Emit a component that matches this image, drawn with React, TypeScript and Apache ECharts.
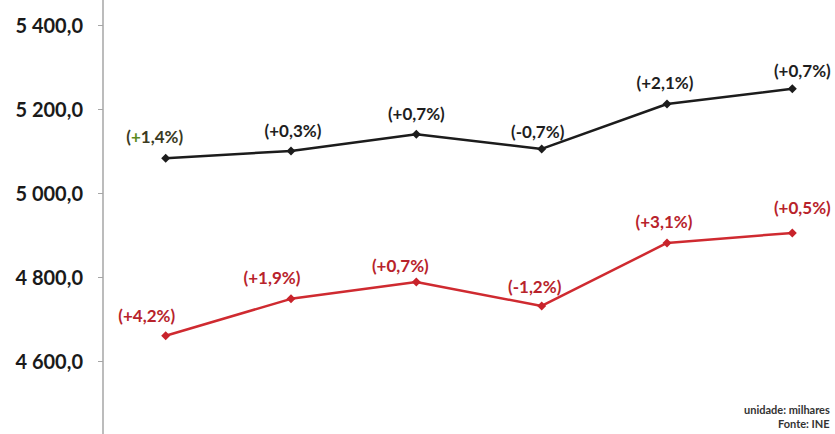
import React, { useEffect, useRef } from "react";
import * as echarts from "echarts";

const categories = ["1", "2", "3", "4", "5", "6"];
const seriesTop = [5083, 5100, 5140, 5105, 5212, 5248];
const seriesBottom = [4660, 4748, 4788, 4731, 4881, 4905];
const labelsTop = ["(+1,4%)", "(+0,3%)", "(+0,7%)", "(-0,7%)", "(+2,1%)", "(+0,7%)"];
const labelsBottom = ["(+4,2%)", "(+1,9%)", "(+0,7%)", "(-1,2%)", "(+3,1%)", "(+0,5%)"];
const yTicks = { min: 4400, max: 5600, interval: 200 };

// label placement styling (offset of label centre from its point)
const offTop = [[-11, -22], [2, -21], [0, -21], [-4, -17], [-2, -21], [10, -18]];
const offBottom = [[-19, -20], [-19, -21], [-16, -17], [-7, -19], [-3, -21], [10, -25]];

const FONT = "Lato, 'Open Sans', sans-serif";

function fmtAxis(v: number): string {
  const fixed = v.toFixed(1).replace(".", ",");
  const [int, dec] = fixed.split(",");
  const withSpace = int.replace(/\B(?=(\d{3})+(?!\d))/g, " ");
  return withSpace + "," + dec;
}

export default function App() {
  const ref = useRef<HTMLDivElement>(null);
  useEffect(() => {
    if (!ref.current) return;
    const chart = echarts.init(ref.current, undefined, { renderer: "svg" });
    const topData = seriesTop.map((v, i) => ({
      value: v,
      label: {
        show: true,
        position: "inside",
        offset: offTop[i],
        formatter: i === 0 ? "{p|(}{g|+}{p|1,4%)}" : labelsTop[i],
        color: "#1e1e1e",
        rich: {
          p: { color: "#3a3a22", fontSize: 17, fontWeight: "bold", fontFamily: FONT },
          g: { color: "#5c8a1e", fontSize: 17, fontWeight: "bold", fontFamily: FONT },
        },
      },
    }));
    const bottomData = seriesBottom.map((v, i) => ({
      value: v,
      label: {
        show: true,
        position: "inside",
        offset: offBottom[i],
        formatter: labelsBottom[i],
        color: "#b8232b",
      },
    }));
    chart.setOption({
      animation: false,
      backgroundColor: "#ffffff",
      grid: {
        left: 103,
        right: -20,
        top: -59,
        bottom: -11,
        containLabel: false,
        outerBoundsMode: "none",
      },
      xAxis: {
        type: "category",
        data: categories,
        boundaryGap: true,
        axisLine: { show: false },
        axisTick: { show: false },
        axisLabel: { show: false },
        splitLine: { show: false },
      },
      yAxis: {
        type: "value",
        min: yTicks.min,
        max: yTicks.max,
        interval: yTicks.interval,
        axisLine: { show: true, lineStyle: { color: "#a6a6a6", width: 1.5 } },
        axisTick: { show: true, length: 5, lineStyle: { color: "#a6a6a6", width: 1 } },
        splitLine: { show: false },
        axisLabel: {
          margin: 20,
          color: "#1a1a1a",
          fontSize: 20,
          fontWeight: "bold",
          fontFamily: FONT,
          showMinLabel: false,
          showMaxLabel: false,
          formatter: (v: number) => fmtAxis(v),
        },
      },
      series: [
        {
          type: "line",
          data: topData,
          symbol: "diamond",
          symbolSize: 9,
          itemStyle: { color: "#1c1c1c" },
          lineStyle: { color: "#1c1c1c", width: 2.5 },
          label: { fontSize: 17, fontWeight: "bold", fontFamily: FONT },
          z: 3,
        },
        {
          type: "line",
          data: bottomData,
          symbol: "diamond",
          symbolSize: 9,
          itemStyle: { color: "#c8232b" },
          lineStyle: { color: "#cf2a30", width: 2.5 },
          label: { fontSize: 17, fontWeight: "bold", fontFamily: FONT },
          z: 3,
        },
      ],
      graphic: [
        {
          type: "text",
          left: 744,
          top: 404,
          style: { text: "unidade: milhares", fill: "#333333", font: `bold 11px ${FONT}` },
        },
        {
          type: "text",
          left: 778,
          top: 418,
          style: { text: "Fonte: INE", fill: "#333333", font: `bold 11px ${FONT}` },
        },
      ],
    });
    return () => chart.dispose();
  }, []);
  return (
    <div
      ref={ref}
      style={{ position: "fixed", left: 0, top: 0, width: 835, height: 434, overflow: "hidden" }}
    />
  );
}
